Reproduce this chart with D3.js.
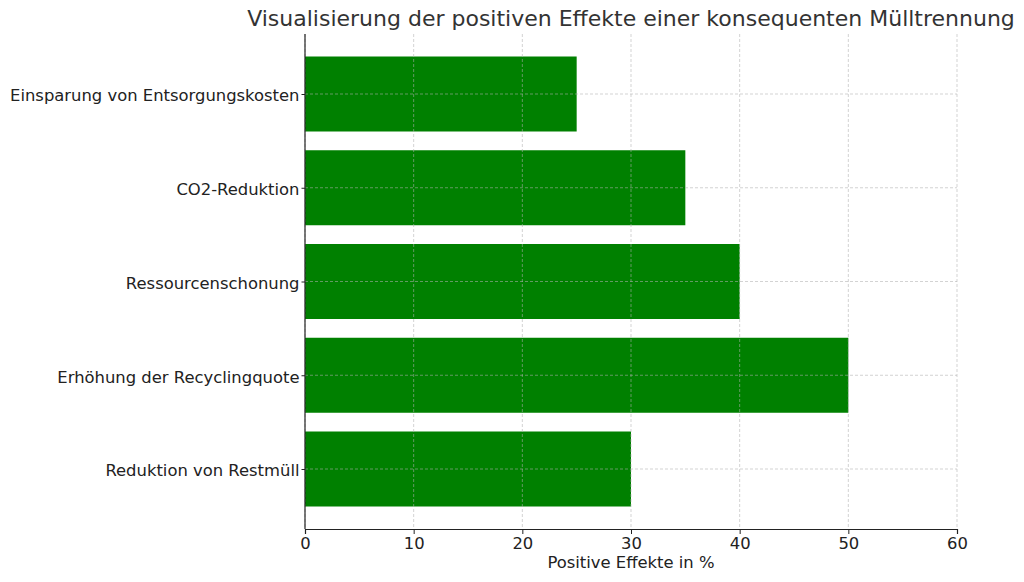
<!DOCTYPE html>
<html>
<head>
<meta charset="utf-8">
<script src="https://cdn.jsdelivr.net/npm/d3@7"></script>
<style>
  body { margin: 0; background: #fff; }
  svg { font-family: 'DejaVu Sans', sans-serif; }
</style>
</head>
<body>
<svg class="chart" width="1024" height="582"></svg>
<script>
// categories top to bottom
const categories = [
  'Einsparung von Entsorgungskosten',
  'CO2-Reduktion',
  'Ressourcenschonung',
  'Erhöhung der Recyclingquote',
  'Reduktion von Restmüll'
];
const values = [25, 35, 40, 50, 30];
const xTicks = [0, 10, 20, 30, 40, 50, 60];

const margin = {top: 34, right: 67, bottom: 53, left: 305},
      width = 1024 - margin.left - margin.right,
      height = 582 - margin.top - margin.bottom;

const svg = d3.select('svg.chart');
const g = svg.append('g').attr('transform', `translate(${margin.left}, ${margin.top})`);

const x = d3.scaleLinear().domain([0, 60]).range([0, width]);

// matplotlib style: bar centres at integer positions, 0.8 wide, 5% margins
const y = d3.scaleLinear().domain([-0.64, categories.length - 1 + 0.64]).range([0, height]);

g.selectAll('rect.bar')
  .data(values)
  .enter()
  .append('rect')
    .attr('class', 'bar')
    .attr('x', x(0))
    .attr('y', (d, i) => y(i - 0.4))
    .attr('width', d => x(d) - x(0))
    .attr('height', y(0.4) - y(-0.4))
    .style('fill', '#008000');

// grid on top of bars
const grid = g.append('g').attr('class', 'grid');
grid.selectAll('line.vx')
  .data(xTicks)
  .enter()
  .append('line')
    .attr('x1', d => x(d)).attr('x2', d => x(d))
    .attr('y1', 0).attr('y2', height);
grid.selectAll('line.hy')
  .data(categories)
  .enter()
  .append('line')
    .attr('x1', 0).attr('x2', width)
    .attr('y1', (d, i) => y(i)).attr('y2', (d, i) => y(i));
grid.selectAll('line')
  .style('stroke', '#b0b0b0')
  .style('stroke-opacity', 0.7)
  .style('stroke-width', 0.8)
  .style('stroke-dasharray', '3,2');

const labelSize = '16.4px';

// x axis
const xAxis = g.append('g')
  .attr('transform', `translate(0, ${height})`)
  .call(d3.axisBottom(x).tickValues(xTicks).tickSize(5).tickPadding(3));
xAxis.select('.domain').style('stroke', '#222').style('stroke-width', 1.2);
xAxis.selectAll('.tick line').style('stroke', '#222');
xAxis.selectAll('text')
  .style('font-size', labelSize)
  .style('fill', '#222')
  .style('font-family', "'DejaVu Sans', sans-serif");

// y axis
const yAxis = g.append('g')
  .call(d3.axisLeft(y).tickValues(d3.range(categories.length))
    .tickFormat(i => categories[i]).tickSize(3.5).tickPadding(2));
yAxis.select('.domain').attr('d', `M0,0V${height}`).style('stroke', '#222').style('stroke-width', 1.2);
yAxis.selectAll('.tick line').style('stroke', '#222');
yAxis.selectAll('text')
  .attr('dy', '0.42em')
  .style('font-size', labelSize)
  .style('fill', '#222')
  .style('font-family', "'DejaVu Sans', sans-serif");

// axis title
g.append('text')
  .text('Positive Effekte in %')
  .attr('x', width / 2)
  .attr('y', height + 39)
  .style('text-anchor', 'middle')
  .style('font-size', labelSize)
  .style('fill', '#222');

// title
svg.append('text')
  .text('Visualisierung der positiven Effekte einer konsequenten Mülltrennung')
  .attr('x', margin.left + width / 2)
  .attr('y', 26)
  .style('text-anchor', 'middle')
  .style('font-size', '22px')
  .style('fill', '#333');
</script>
</body>
</html>
